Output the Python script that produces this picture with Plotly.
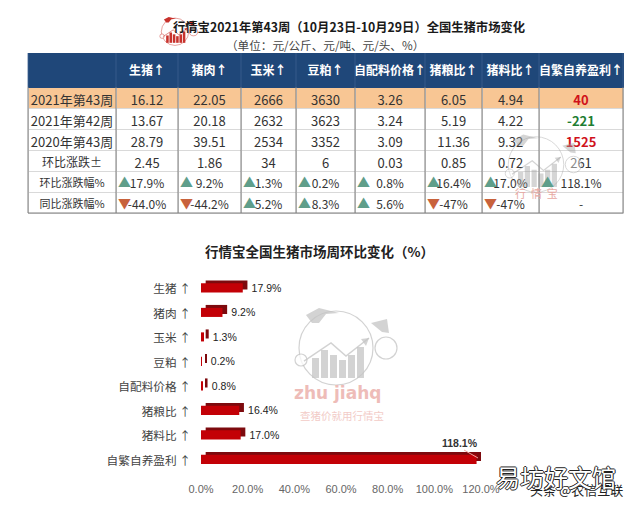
import json

import plotly.graph_objects as go

W, H = 640, 511
CJK = "Noto Sans CJK SC"

# table data
row_labels = ["2021年第43周", "2021年第42周", "2020年第43周", "环比涨跌±", "环比涨跌幅%", "同比涨跌幅%"]
columns = ["生猪↑", "猪肉↑", "玉米↑", "豆粕↑", "自配料价格↑", "猪粮比↑", "猪料比↑", "自繁自养盈利↑"]
hog = ["16.12", "13.67", "28.79", "2.45"]
pork = ["22.05", "20.18", "39.51", "1.86"]
corn = ["2666", "2632", "2534", "34"]
soymeal = ["3630", "3623", "3352", "6"]
feed = ["3.26", "3.24", "3.09", "0.03"]
hog_grain = ["6.05", "5.19", "11.36", "0.85"]
hog_feed = ["4.94", "4.22", "9.32", "0.72"]
profit = ["40", "-221", "1525", "261"]
profit_colors = ["#d0121b", "#1e7d32", "#d0121b", "#333333", "#333333", "#333333"]
wow_pct = ["17.9%", "9.2%", "1.3%", "0.2%", "0.8%", "16.4%", "17.0%", "118.1%"]
yoy_pct = ["-44.0%", "-44.2%", "5.2%", "8.3%", "5.6%", "-47%", "-47%", "-"]

# bar chart data
bar_names = ["生猪 ↑", "猪肉 ↑", "玉米 ↑", "豆粕 ↑", "自配料价格 ↑", "猪粮比 ↑", "猪料比 ↑", "自繁自养盈利 ↑"]
bar_values = [17.9, 9.2, 1.3, 0.2, 0.8, 16.4, 17.0, 118.1]

# table geometry in pixels
col_edges = [28, 116, 178, 241, 296, 355, 425, 482, 539, 623]
table_top, header_h, row_h = 53, 34, 21


def px(x, y):
    return x / W, 1 - y / H


def pack(values, idx):
    return list(values) + [wow_pct[idx], yoy_pct[idx]]


cell_values = [row_labels, pack(hog, 0), pack(pork, 1), pack(corn, 2), pack(soymeal, 3),
               pack(feed, 4), pack(hog_grain, 5), pack(hog_feed, 6), pack(profit, 7)]
row_fill = ["#f8c694", "white", "white", "white", "white", "white"]
tbl_bottom = table_top + header_h + row_h * len(row_labels)
plain = ["#333333"] * 6
label_sizes = [13, 13, 13, 12, 11, 11]
value_sizes = [13, 13, 13, 13, 12, 12]
plain_weight = ["normal"] * 6
profit_weight = ["bold", "bold", "bold", "normal", "normal", "normal"]

fig = go.Figure()
fig.add_trace(go.Table(
    domain=dict(x=[col_edges[0] / W, col_edges[-1] / W], y=[0, 1 - table_top / H]),
    columnwidth=[b - a for a, b in zip(col_edges, col_edges[1:])],
    header=dict(
        values=[""] + [f"<b>{c}</b>" for c in columns],
        fill_color="#1f4779", line_color="#1f4779", align="center", height=header_h,
        font=dict(family=CJK, size=12, color="white"),
    ),
    cells=dict(
        values=cell_values,
        fill_color=[row_fill] * 9, line_color="#d9d9d9", align="center", height=row_h,
        font=dict(family=CJK, size=13, color=[plain] * 8 + [profit_colors]),
    ),
))

# bars: a dark copy behind gives the 3d top and side faces
depth = 2
fig.add_trace(go.Bar(
    y=bar_names, x=bar_values, base=depth, orientation="h", width=0.37, offset=-0.36,
    marker=dict(color="#7d0a0e", line_width=0), showlegend=False, xaxis="x", yaxis="y",
))
fig.add_trace(go.Bar(
    y=bar_names, x=bar_values, orientation="h", width=0.37, offset=-0.24,
    marker=dict(color="#c30006", line_width=0), showlegend=False, xaxis="x", yaxis="y",
    text=["\u00a0\u00a0" + f"{v:.1f}%" for v in bar_values[:-1]] + [""],
    textposition="outside", cliponaxis=False, constraintext="none",
    textfont=dict(family="Liberation Sans", size=10.5, color="#222222"),
))

fig.update_layout(
    width=W, height=H, autosize=False, margin=dict(l=0, r=0, t=0, b=0, pad=0),
    paper_bgcolor="white", plot_bgcolor="rgba(0,0,0,0)", barmode="overlay", showlegend=False,
    font=dict(family=CJK),
    xaxis=dict(domain=[201 / W, 481 / W], range=[0, 120], dtick=20, tickformat=".1f", ticksuffix="%",
               showgrid=False, zeroline=False, showline=False, ticks="outside", ticklen=6,
               tickcolor="rgba(0,0,0,0)", anchor="y", automargin=False,
               tickfont=dict(family="Liberation Sans", size=11, color="#666666")),
    yaxis=dict(domain=[1 - 473 / H, 1 - 277 / H], autorange="reversed", showgrid=False, zeroline=False,
               showline=False, ticks="", anchor="x", ticklabelstandoff=9, automargin=False,
               tickfont=dict(family=CJK, size=11.7, color="#444444")),
)

shapes = []
annotations = []


def add_line(x0, y0, x1, y1, color, width=1):
    a, b = px(x0, y0)
    c, d = px(x1, y1)
    shapes.append(dict(type="line", xref="paper", yref="paper", x0=a, y0=b, x1=c, y1=d,
                       line=dict(color=color, width=width)))


def add_note(text, x, y, size, color, anchor="center", family=CJK, **extra):
    a, b = px(x, y)
    annotations.append(dict(text=text, x=a, y=b, xref="paper", yref="paper", showarrow=False,
                            xanchor=anchor, yanchor="middle",
                            font=dict(family=family, size=size, color=color, **extra)))


def logo(cx, cy, s, color, opacity):
    def poly(points, fill=None):
        d = "M " + " L ".join(
            "{:.4f},{:.4f}".format(*px(cx + s * p, cy + s * q)) for p, q in points)
        shapes.append(dict(type="path", xref="paper", yref="paper", path=d + (" Z" if fill else ""),
                           fillcolor=fill, opacity=opacity,
                           line=dict(color=color, width=0 if fill else 1.5 * s)))

    def ring(p, q, r, fill=None):
        a, b = px(cx + s * (p - r), cy + s * (q - r))
        c, d = px(cx + s * (p + r), cy + s * (q + r))
        shapes.append(dict(type="circle", xref="paper", yref="paper", x0=a, y0=b, x1=c, y1=d,
                           fillcolor=fill, opacity=opacity, line=dict(color=color, width=1.2 * s)))

    ring(0, 2, 37)
    ring(50, 2, 11, "white")
    ring(-35, 14, 6, "white")
    poly([(-30, -31), (-17, -38), (3, -33), (-10, -32), (-17, -23), (-24, -23)], color)
    poly([(35, -23), (51, -27), (53, -13), (46, -14)], color)
    for left, top in [(-24, 12), (-15, 4), (-6, 9), (3, 14), (12, 9), (21, 1)]:
        poly([(left, top), (left + 7, top), (left + 7, 32), (left, 32)], color)
    poly([(-32, 15), (-5, -3), (10, 10), (33, -8)])
    poly([(33, -8), (25, -7), (30, 0)], color)


# column rules and the table's bottom border
for x in col_edges:
    add_line(x, table_top, x, table_top + header_h, "#3d6191", 0.8)
    add_line(x, table_top + header_h, x, tbl_bottom, "#7f7f7f", 1)
add_line(col_edges[0], tbl_bottom, col_edges[-1], tbl_bottom, "#7f7f7f", 1)

# arrows in the two percentage rows
for r, pct in enumerate([wow_pct, yoy_pct]):
    y = table_top + header_h + row_h * (4 + r) + row_h / 2
    for j, text in enumerate(pct):
        if text == "-":
            continue
        mark, col = ("▼", "#c8623c") if text.startswith("-") else ("▲", "#5f9e8a")
        add_note(mark, col_edges[j + 1] + 8, y, 13, col)

logo(175, 31, 0.37, "#c8322c", 1)
logo(536, 163, 0.75, "#9a9a9a", 0.42)
logo(336, 346, 1, "#c4c4c4", 0.75)

add_note("<b>行情宝2021年第43周（10月23日-10月29日）全国生猪市场变化</b>", 349, 27, 12.3, "#1a1a1a")
add_note("（单位：元/公斤、元/吨、元/头、%）", 325, 45, 11.6, "#444444")
add_note("<b>行情宝全国生猪市场周环比变化（%）</b>", 319, 251, 13.5, "#222222")
add_note("<b>zhu jiahq</b>", 337, 393, 17, "#eebcb8", family="DejaVu Sans")
add_note("查猪价就用行情宝", 342, 415, 10.5, "#f2cbc7")
add_note("行  情  宝", 536, 193, 11, "#e7a9a3")
add_note(f"<b>{bar_values[-1]:.1f}%</b>", 480, 443, 10.5, "#333333", anchor="right", family="Liberation Sans")
add_line(464, 450, 478, 458, "#f0a5a0", 1)
add_note("头条 @农信互联", 625, 489, 13, "#222222", anchor="right")
add_note("易坊好文馆", 556, 476, 24, "white",
         shadow="1px 0 0 #222, -1px 0 0 #222, 0 1px 0 #222, 0 -1px 0 #222")

fig.update_layout(shapes=shapes, annotations=annotations)

# python's validator only takes per-column sizes and weights, plotly.js takes per-cell
cell_font = {
    "cells.font.size": [[label_sizes] + [value_sizes] * 8],
    "cells.font.weight": [[plain_weight] * 8 + [profit_weight]],
}
fig.write_html("out.html", config={"displayModeBar": False},
               post_script="document.body.style.margin='0';"
                           "Plotly.restyle('{plot_id}', " + json.dumps(cell_font) + ", [0]);")
